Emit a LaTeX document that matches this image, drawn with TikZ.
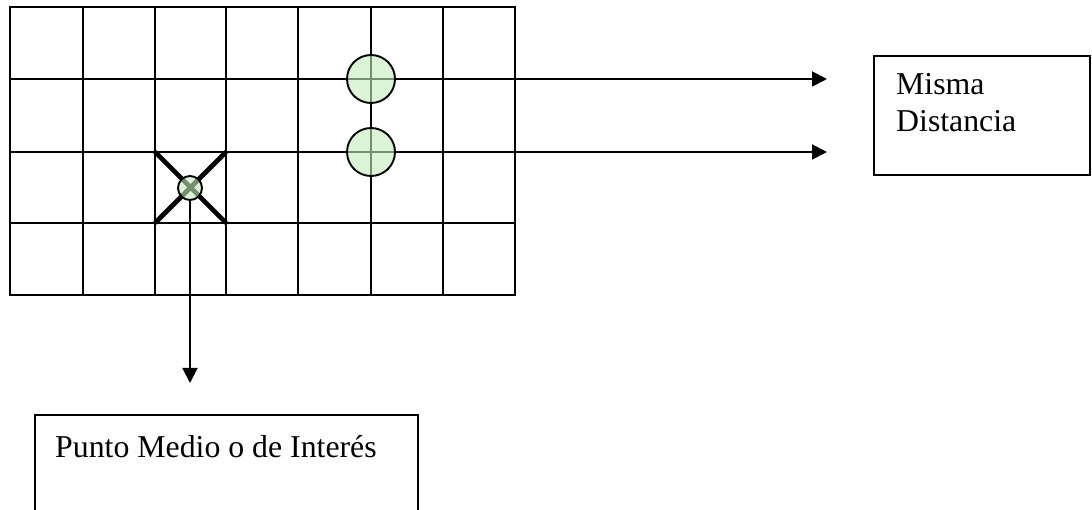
\documentclass[tikz,border=0pt]{standalone}
\usepackage{fontspec}
\setmainfont{Liberation Serif}
\usetikzlibrary{arrows.meta}
\definecolor{spotgreen}{RGB}{197,238,188}
\begin{document}
\begin{tikzpicture}[x=1pt,y=-1pt,
  gridline/.style={line width=1.9pt},
  crossline/.style={line width=4.6pt},
  spot/.style={circle,draw,line width=1.9pt,fill=spotgreen,fill opacity=0.6,inner sep=0pt},
  arr/.style={line width=1.9pt,-{Triangle[length=15pt,width=15pt]}},
  boxnode/.style={draw,line width=1.9pt,rectangle,inner sep=0pt},
  lbl/.style={font=\fontsize{31.8}{37}\selectfont,anchor=base west,inner sep=0pt}]
\useasboundingbox (0,0) rectangle (1092,510);
\clip (0,0) rectangle (1092,510);
\fill[white] (0,0) rectangle (1092,510);
% grid
\draw[gridline] (10,7) rectangle (515,295);
\foreach \xx in {83,155,226,298,371,443} \draw[gridline] (\xx,7) -- (\xx,295);
\foreach \yy in {79,152,223} \draw[gridline] (10,\yy) -- (515,\yy);
% cross
\draw[crossline] (155,152) -- (226,223);
\draw[crossline] (155,223) -- (226,152);
% spots
\node[spot,minimum size=48pt] (c1) at (371,79) {};
\node[spot,minimum size=48pt] (c2) at (371,152) {};
\node[spot,minimum size=24pt] (c0) at (190,188) {};
% arrow ends
\coordinate (t1) at (827,79);
\coordinate (t2) at (827,152);
\coordinate (t0) at (190,383);
\draw[arr] (c1.east) -- (t1);
\draw[arr] (c2.east) -- (t2);
\draw[arr] (c0.south) -- (t0);
% boxes
\node[boxnode,minimum width=216pt,minimum height=119pt] (misma) at (982,115.5) {};
\node[lbl] (m1) at (896,95) {Misma};
\node[lbl] (m2) at (896,132) {Distancia};
\node[boxnode,minimum width=383pt,minimum height=125pt] (punto) at (226.5,477.5) {};
\node[lbl] (p1) at (55,457) {Punto Medio o de Interés};
\end{tikzpicture}
\end{document}
